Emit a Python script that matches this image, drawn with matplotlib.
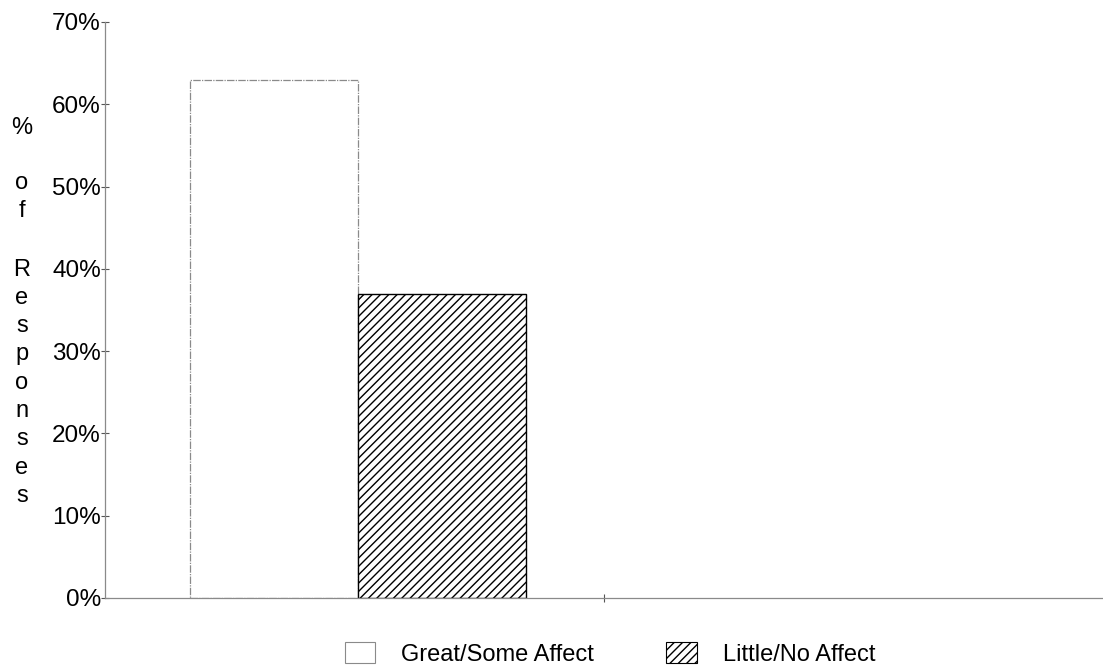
import numpy as np
import matplotlib.pyplot as plt
from matplotlib.patches import Patch

plt.rcParams['font.family'] = ['Liberation Sans', 'DejaVu Sans']

# survey answers, share of responses
categories = ['', '']
great_some = [63, 0]
little_no = [37, 0]
series_names = ['Great/Some Affect', 'Little/No Affect']
y_ticks = [0, 10, 20, 30, 40, 50, 60, 70]
y_label_words = ['%', 'of', 'Responses']

fig = plt.figure(figsize=(11.03, 6.69), dpi=100)
ax = fig.add_axes([105 / 1103, 1 - 598 / 669, 998 / 1103, 576 / 669])

x = np.arange(len(categories)) + 0.007
w = 0.337
ax.bar(x[:1] - w / 2, great_some[:1], width=w, color='white',
       edgecolor='#8a8a8a', linewidth=0.9, linestyle=(0, (6, 1, 1, 1)))
ax.bar(x[:1] + w / 2, little_no[:1], width=w, color='white',
       edgecolor='black', linewidth=1.0, hatch='////')

ax.set_xlim(-0.5, 1.5)
ax.set_ylim(0, 70)
ax.set_yticks(y_ticks)
ax.set_yticklabels([f'{t}%' for t in y_ticks], fontsize=17.5)
ax.set_xticks([0.5])
ax.set_xticklabels([])

for side in ['top', 'right']:
    ax.spines[side].set_visible(False)
for side in ['left', 'bottom']:
    ax.spines[side].set_color('#8a8a8a')
    ax.spines[side].set_linewidth(0.9)
    ax.spines[side].set_linestyle((0, (8, 1, 2, 1)))
ax.tick_params(axis='both', direction='inout', length=6, width=0.8,
               color='#555555', pad=0)

# vertical stacked axis title, one character per line (baselines in px)
step = 28.3
starts = [133.5, 189, 275.5]
for word, start in zip(y_label_words, starts):
    for i, ch in enumerate(word):
        fig.text(22 / 1103, 1 - (start + i * step) / 669, ch, fontsize=17,
                 ha='center', va='baseline')

handles = [Patch(facecolor='white', edgecolor='#8a8a8a', linewidth=0.8),
           Patch(facecolor='white', edgecolor='black', linewidth=0.8, hatch='////')]
fig.legend(handles, series_names, loc='center', ncol=2, frameon=False,
           fontsize=17, bbox_to_anchor=(0.553, 1 - 654 / 669),
           handlelength=1.3, handleheight=1.0, handletextpad=1.1,
           columnspacing=3.05)

fig.savefig('out.png', dpi=100)
